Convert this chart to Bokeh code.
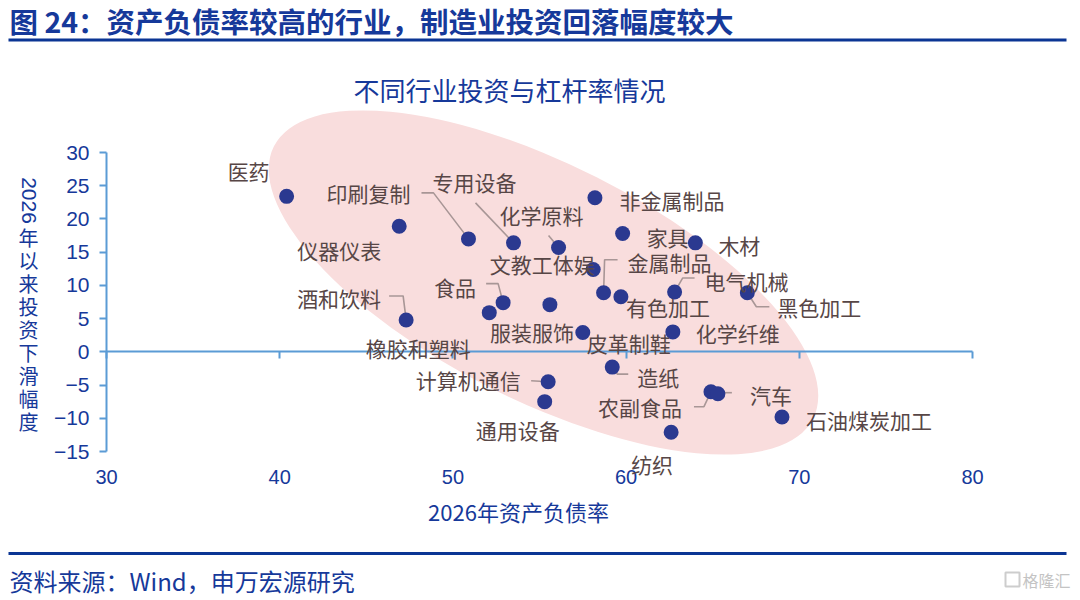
import math
from bokeh.plotting import figure
from bokeh.models import (Range1d, LinearAxis, FixedTicker, ColumnDataSource,
                          LabelSet, Label, CustomJSTickFormatter)
from bokeh.embed import file_html
from bokeh.resources import INLINE
from bokeh.core.properties import value

# ---------------- data ----------------
industries = ["医药", "印刷复制", "专用设备", "化学原料", "非金属制品", "家具", "木材",
              "仪器仪表", "文教工体娱", "金属制品", "电气机械", "黑色加工", "有色加工",
              "化学纤维", "皮革制鞋", "服装服饰", "食品", "酒和饮料", "橡胶和塑料",
              "计算机通信", "通用设备", "造纸", "农副食品", "汽车", "石油煤炭加工", "纺织"]
leverage = [40.4, 50.9, 53.5, 56.1, 58.2, 59.8, 64.0,
            46.9, 58.1, 58.7, 62.8, 67.0, 59.7,
            62.7, 57.5, 55.6, 52.9, 47.3, 52.1,
            55.5, 55.3, 59.2, 64.9, 65.3, 69.0, 62.6]
invest_drop = [23.4, 17.0, 16.4, 15.7, 23.2, 17.8, 16.4,
               18.9, 12.4, 8.9, 9.0, 8.9, 8.3,
               3.0, 2.9, 7.1, 7.4, 4.8, 5.9,
               -4.5, -7.5, -2.3, -6.0, -6.3, -9.8, -12.1]
x_ticks = [30, 40, 50, 60, 70, 80]
y_ticks = [-15, -10, -5, 0, 5, 10, 15, 20, 25, 30]

header_text = "图 24：资产负债率较高的行业，制造业投资回落幅度较大"
chart_title = "不同行业投资与杠杆率情况"
x_label = "2026年资产负债率"
y_label_num = "2026"
y_label_chars = "年以来投资下滑幅度"
source_text = "资料来源：Wind，申万宏源研究"
watermark = "格隆汇"

# ---------------- layout (screen px) ----------------
label_offsets = {  # label centre relative to point, px (right, down)
    "医药": (-38, -25), "印刷复制": (-100, -46), "专用设备": (-39, -61),
    "化学原料": (-17, -33), "非金属制品": (77, 2), "家具": (45, 3), "木材": (44, 2),
    "仪器仪表": (-60, 24), "文教工体娱": (-51, -5), "金属制品": (66, -31),
    "电气机械": (72, -11), "黑色加工": (72, 14), "有色加工": (47, 10),
    "化学纤维": (65, 1), "皮革制鞋": (46, 10), "服装服饰": (-18, 27),
    "食品": (-48, -16), "酒和饮料": (-67, -22), "橡胶和塑料": (-71, 35),
    "计算机通信": (-80, -2), "通用设备": (-27, 28), "造纸": (46, 10),
    "农副食品": (-71, 15), "汽车": (53, 1), "石油煤炭加工": (87, 3), "纺织": (-19, 32),
}
leaders = {  # leader line vertices relative to point, px (right, down)
    "印刷复制": [(-47, -46), (-35, -46), (0, 0)],
    "专用设备": [(-38, -40), (0, 0)],
    "化学原料": [(-10, -12), (0, 0)],
    "金属制品": [(14, -33), (1, -33), (0, 0)],
    "电气机械": [(20, -14), (8, -14), (0, 0)],
    "黑色加工": [(0, 0), (9, 14), (22, 14)],
    "食品": [(-17, -19), (-5, -19), (0, 0)],
    "酒和饮料": [(-17, -24), (-3, -24), (0, 0)],
    "计算机通信": [(-17, -1), (0, 0)],
    "造纸": [(0, 0), (5, 7), (16, 7)],
    "农副食品": [(-17, 15), (-7, 15), (0, 0)],
    "汽车": [(0, -1), (14, -1)],
}

W, H = 1078, 598           # canvas (page origin at 0,0)
KX = 866 / 50.0            # px per x unit  (x=30 at page 106, x=80 at page 972)
KY = 299 / 45.0            # px per y unit  (y=30 at page 152, y=-15 at page 451)
XR0 = 30 - 106 / KX
XR1 = XR0 + W / KX
YR1 = 30 + 152 / KY
YR0 = YR1 - H / KY


def page_x(px):
    return XR0 + px / KX


def page_y(py):
    return YR1 - py / KY


BLUE = "#16399a"
RULE = "#0b3594"
AXIS_BLUE = "#5b9bd5"
DOT = "#2b3990"
LABEL_C = "#574646"
LEADER_C = "#a89696"
CJK = "Noto Sans CJK SC"
LAT = "Liberation Sans"

p = figure(width=W, height=H, x_range=Range1d(XR0, XR1), y_range=Range1d(YR0, YR1),
           output_backend="svg", toolbar_location=None, min_border=0,
           outline_line_color=None, background_fill_color="white", border_fill_color="white")
p.xgrid.visible = False
p.ygrid.visible = False

# x tick labels, sitting low (Excel "low" labels)
xa = p.xaxis[0]
xa.fixed_location = page_y(469)
xa.ticker = FixedTicker(ticks=x_ticks)
xa.axis_line_color = None
xa.major_tick_line_color = None
xa.minor_tick_line_color = None
xa.major_tick_out = 0
xa.major_tick_in = 0
xa.major_label_standoff = 0
xa.major_label_text_font = LAT
xa.major_label_text_font_size = "20px"
xa.major_label_text_color = BLUE

ya = p.yaxis[0]
ya.fixed_location = 30
ya.ticker = FixedTicker(ticks=y_ticks)
ya.bounds = (-15, 30)
ya.axis_line_color = AXIS_BLUE
ya.axis_line_width = 2
ya.major_tick_line_color = AXIS_BLUE
ya.major_tick_line_width = 2
ya.major_tick_out = 7
ya.major_tick_in = 0
ya.minor_tick_line_color = None
ya.major_label_standoff = 10
ya.major_label_text_font = LAT
ya.major_label_text_font_size = "21px"
ya.major_label_text_color = BLUE

zero_axis = LinearAxis(fixed_location=0, ticker=FixedTicker(ticks=x_ticks), bounds=(30, 80),
                       axis_line_color=AXIS_BLUE, axis_line_width=2,
                       major_tick_line_color=AXIS_BLUE, major_tick_line_width=2,
                       major_tick_out=7, major_tick_in=0, minor_tick_line_color=None,
                       formatter=CustomJSTickFormatter(code="return ''"))
p.add_layout(zero_axis, "below")

# pink highlight ellipse
p.ellipse(x=[page_x(543)], y=[page_y(282)], width=604, height=236,
          width_units="screen", height_units="screen", angle=-26.8, angle_units="deg",
          fill_color="#f9dddd", line_color=None, level="underlay")

# leader lines
lx, ly = [], []
for name, pts in leaders.items():
    i = industries.index(name)
    lx.append([leverage[i] + ox / KX for ox, oy in pts])
    ly.append([invest_drop[i] - oy / KY for ox, oy in pts])
p.multi_line(lx, ly, line_color=LEADER_C, line_width=1.6)

src = ColumnDataSource(dict(
    x=leverage, y=invest_drop, name=industries,
    dx=[label_offsets[n][0] for n in industries],
    dy=[-label_offsets[n][1] for n in industries],
))
p.scatter("x", "y", source=src, size=15, fill_color=DOT, line_color=None)

labels = LabelSet(x="x", y="y", text="name", source=src, x_offset="dx", y_offset="dy",
                  text_align="center", text_baseline="middle", text_font=value(CJK),
                  text_font_size="21px", text_color=LABEL_C)
p.add_layout(labels)

# chart title, axis titles
p.add_layout(Label(x=page_x(509), y=page_y(89), text=chart_title, text_align="center",
                   text_baseline="middle", text_font=CJK, text_font_size="26px",
                   text_color=BLUE))
p.add_layout(Label(x=page_x(518), y=page_y(510), text=x_label, text_align="center",
                   text_baseline="middle", text_font=CJK, text_font_size="22px",
                   text_color=BLUE))
p.add_layout(Label(x=page_x(28), y=page_y(200), text=y_label_num, angle=-math.pi / 2,
                   text_align="center", text_baseline="middle", text_font=LAT,
                   text_font_size="21px", text_color=BLUE))
p.add_layout(Label(x=page_x(28), y=page_y(329), text="\n".join(y_label_chars),
                   text_align="center", text_baseline="middle", text_font=CJK,
                   text_font_size="20px", text_line_height=0.79, text_color=BLUE))

# header and footer
p.add_layout(Label(x=page_x(9), y=page_y(20), text=header_text, text_align="left",
                   text_baseline="middle", text_font=CJK, text_font_style="bold",
                   text_font_size="28.5px", text_color=BLUE))
p.line([page_x(8), page_x(1066)], [page_y(39.5), page_y(39.5)], line_width=3,
       line_color=RULE)
p.line([page_x(8), page_x(1066)], [page_y(553), page_y(553)], line_width=3,
       line_color=RULE)
p.add_layout(Label(x=page_x(9), y=page_y(580), text=source_text, text_align="left",
                   text_baseline="middle", text_font=CJK, text_font_size="24px",
                   text_color=BLUE))
p.rect(x=[page_x(1012)], y=[page_y(579)], width=14, height=14, width_units="screen",
       height_units="screen", fill_color=None, line_color="#cdcdcd", line_width=2)
p.add_layout(Label(x=page_x(1022), y=page_y(579), text=watermark, text_align="left",
                   text_baseline="middle", text_font=CJK, text_font_size="16px",
                   text_color="#c4c4c4"))

open("out.html", "w").write(file_html(p, INLINE))
